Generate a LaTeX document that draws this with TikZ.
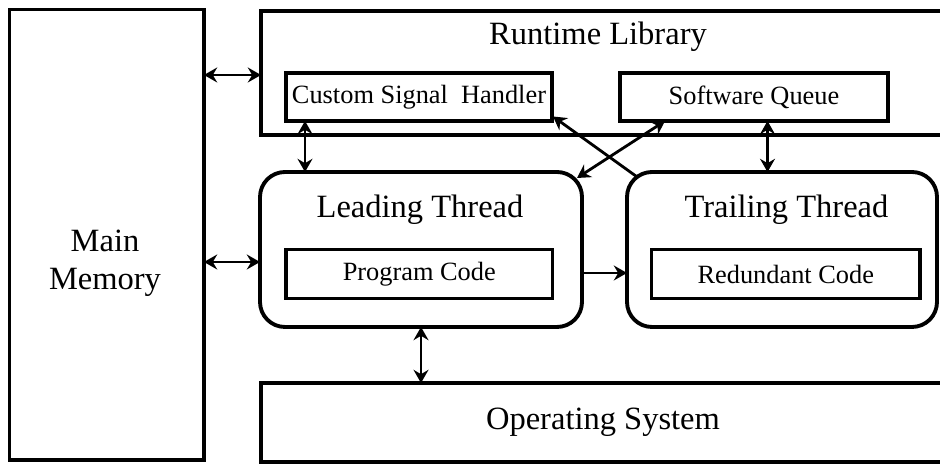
\documentclass[tikz,border=0pt]{standalone}
\usepackage{fontspec}
\setmainfont{Liberation Serif}
\usetikzlibrary{arrows.meta,calc}
\newcommand{\bigtxt}{\fontsize{18.5}{21.5}\selectfont}
\newcommand{\smalltxt}{\fontsize{15}{17.5}\selectfont}

\begin{document}
\begin{tikzpicture}[
        box/.style={draw, line width=2.2pt, inner sep=0pt, outer sep=0pt},
        thread/.style={box, rounded corners=0.5cm},
        link/.style={line width=1.6pt, {Stealth[length=7.5pt,width=8.5pt,inset=2.5pt]}-{Stealth[length=7.5pt,width=8.5pt,inset=2.5pt]}},
        onelink/.style={line width=1.6pt, -{Stealth[length=7.5pt,width=8.5pt,inset=2.5pt]}}
    ]
        \useasboundingbox (0,0) rectangle (18.8,9.28);

        % Main memory
        \node[box, minimum width=3.89cm, minimum height=9.01cm] (mm) at (2.135,4.585) {};
        \node[align=center, font=\bigtxt] (mmtext) at (2.1,4.02) {Main\\Memory};

        % Runtime library
        \node[box, minimum width=13.73cm, minimum height=2.48cm] (rl) at (12.085,7.82) {};
        \node (rltext) at (11.96,8.54) {\bigtxt Runtime Library};
        \node[box, minimum width=5.32cm, minimum height=0.96cm] (csh) at (8.38,7.34) {\smalltxt Custom Signal~~Handler};
        \node[box, minimum width=5.36cm, minimum height=0.96cm] (sq) at (15.08,7.34) {\smalltxt Software Queue};

        % Threads
        \node[thread, minimum width=6.44cm, minimum height=3.1cm] (lt) at (8.42,4.29) {};
        \node (lttext) at (8.4,5.08) {\bigtxt Leading Thread};
        \node[box, minimum width=5.33cm, minimum height=0.98cm] (pc) at (8.385,3.8) {\smalltxt Program Code};

        \node[thread, minimum width=6.2cm, minimum height=3.1cm] (tt) at (15.64,4.29) {};
        \node (tttext) at (15.73,5.08) {\bigtxt Trailing Thread};
        \node[box, minimum width=5.37cm, minimum height=0.98cm] (rc) at (15.715,3.8) {\smalltxt Redundant Code};

        % Operating system
        \node[box, minimum width=13.73cm, minimum height=1.58cm] (os) at (12.085,0.83) {};
        \node (ostext) at (12.06,0.84) {\bigtxt Operating System};

        % Links
        \draw[link] (mm.east |- 0,7.78) -- (rl.west |- 0,7.78);
        \draw[link] (mm.east |- 0,4.04) -- (lt.west |- 0,4.04);
        \draw[link] (csh.south -| 6.1,0) -- (lt.north -| 6.1,0);
        \draw[link] (sq.south -| 15.35,0) -- (tt.north -| 15.35,0);
        \draw[link] (lt.south -| 8.42,0) -- (os.north -| 8.42,0);
        \draw[onelink] (lt.east |- 0,3.82) -- (tt.west |- 0,3.82);
        \draw[onelink] ($(tt.north west)+(0.19,-0.09)$) -- ($(csh.south east)+(0.02,0.09)$);
        \draw[link] ($(sq.south west)+(0.9,0)$) -- ($(lt.north east)+(-0.1,-0.12)$);
    \end{tikzpicture}
\end{document}
